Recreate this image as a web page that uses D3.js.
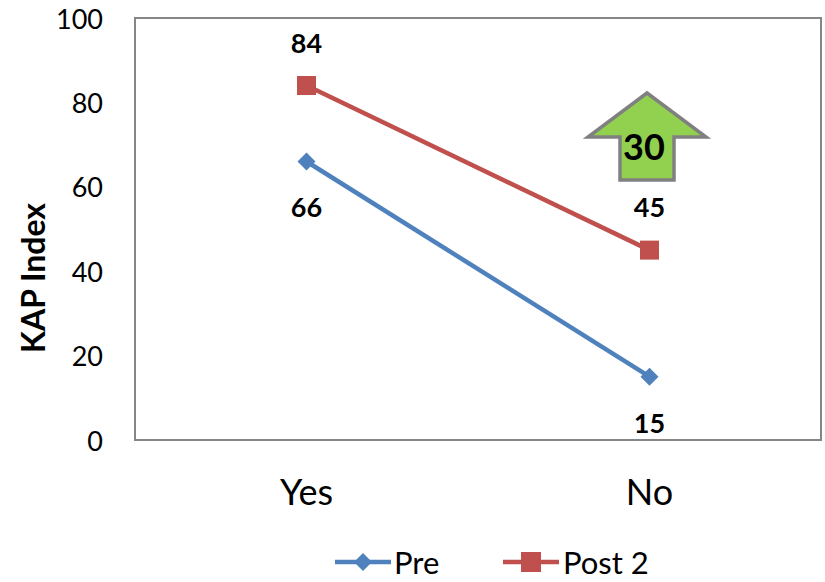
<!DOCTYPE html>
<html>
<head>
<meta charset="utf-8">
<script src="https://cdn.jsdelivr.net/npm/d3@7"></script>
<style>
  html, body { margin: 0; padding: 0; background: #fff; }
  svg { display: block; font-family: Lato, "Open Sans", sans-serif; }
</style>
</head>
<body>
<svg id="chart" width="825" height="582"></svg>
<script>
// KAP index by group, before and after
const categories = ["Yes", "No"];
const preValues = [66, 15];
const post2Values = [84, 45];
const seriesNames = ["Pre", "Post 2"];
const yTicks = [0, 20, 40, 60, 80, 100];
const changeLabel = 30;

const W = 825, H = 582;
const plot = { left: 135, right: 821, top: 18, bottom: 440 };

const svg = d3.select("#chart");

const x = d3.scaleBand().domain(categories).range([plot.left, plot.right]).padding(0);
const y = d3.scaleLinear().domain([0, 100]).range([plot.bottom, plot.top]);
const cx = d => x(d) + x.bandwidth() / 2;

// plot frame
svg.append("rect")
  .attr("x", plot.left).attr("y", plot.top)
  .attr("width", plot.right - plot.left).attr("height", plot.bottom - plot.top)
  .attr("fill", "none").attr("stroke", "#868686").attr("stroke-width", 2);

// y axis labels
const yAxis = d3.axisLeft(y).tickValues(yTicks).tickSize(0).tickPadding(32);
const yg = svg.append("g").attr("transform", `translate(${plot.left},1.5)`).call(yAxis);
yg.select(".domain").remove();
yg.selectAll("text").attr("font-size", 27).attr("fill", "#000")
  .attr("font-family", "Lato, sans-serif");

// x axis labels
const xAxis = d3.axisBottom(x).tickSize(0).tickPadding(39);
const xg = svg.append("g").attr("transform", `translate(0,${plot.bottom})`).call(xAxis);
xg.select(".domain").remove();
xg.selectAll("text").attr("font-size", 36).attr("fill", "#000")
  .attr("font-family", "Lato, sans-serif");

// axis title
svg.append("text")
  .attr("transform", `translate(45,278) rotate(-90)`)
  .attr("text-anchor", "middle")
  .attr("font-size", 32).attr("font-weight", "bold")
  .text("KAP Index");

const colors = { pre: "#4F81BD", post: "#C0504D" };
const line = d3.line().x(d => cx(d.cat)).y(d => y(d.v));

const preData = categories.map((c, i) => ({ cat: c, v: preValues[i] }));
const postData = categories.map((c, i) => ({ cat: c, v: post2Values[i] }));

function diamond(g, px, py, r, color) {
  g.append("path")
    .attr("d", `M${px},${py - r}L${px + r},${py}L${px},${py + r}L${px - r},${py}Z`)
    .attr("fill", color);
}
function square(g, px, py, s, color) {
  g.append("rect").attr("x", px - s / 2).attr("y", py - s / 2)
    .attr("width", s).attr("height", s).attr("fill", color);
}

// Pre series
svg.append("path").datum(preData).attr("d", line)
  .attr("fill", "none").attr("stroke", colors.pre).attr("stroke-width", 4.5);
const gPre = svg.append("g");
preData.forEach(d => diamond(gPre, cx(d.cat), y(d.v), 9, colors.pre));

// Post 2 series
svg.append("path").datum(postData).attr("d", line)
  .attr("fill", "none").attr("stroke", colors.post).attr("stroke-width", 4.5);
const gPost = svg.append("g");
postData.forEach(d => square(gPost, cx(d.cat), y(d.v), 19, colors.post));

// data labels
svg.selectAll(".lblPre").data(preData).enter().append("text")
  .attr("x", d => cx(d.cat)).attr("y", d => y(d.v) + 56)
  .attr("text-anchor", "middle").attr("font-size", 27).attr("font-weight", "bold")
  .text(d => d.v);
svg.selectAll(".lblPost").data(postData).enter().append("text")
  .attr("x", d => cx(d.cat)).attr("y", d => y(d.v) - 33)
  .attr("text-anchor", "middle").attr("font-size", 27).attr("font-weight", "bold")
  .text(d => d.v);

// change arrow
const ax = 647, tipY = 93, wingY = 137, baseY = 180, halfW = 59, stemHW = 27;
svg.append("path")
  .attr("d", `M${ax},${tipY}L${ax + halfW},${wingY}L${ax + stemHW},${wingY}L${ax + stemHW},${baseY}` +
             `L${ax - stemHW},${baseY}L${ax - stemHW},${wingY}L${ax - halfW},${wingY}Z`)
  .attr("fill", "#92D050").attr("stroke", "#808080").attr("stroke-width", 3.5)
  .attr("stroke-linejoin", "miter");
svg.append("text")
  .attr("x", 644).attr("y", 160)
  .attr("text-anchor", "middle").attr("font-size", 36).attr("font-weight", "bold")
  .text(changeLabel);

// legend
const lg = svg.append("g");
const legY = 562;
lg.append("line").attr("x1", 335).attr("x2", 391).attr("y1", legY).attr("y2", legY)
  .attr("stroke", colors.pre).attr("stroke-width", 4.5);
diamond(lg, 363, legY, 9, colors.pre);
lg.append("text").attr("x", 394).attr("y", 574).attr("font-size", 31).text(seriesNames[0]);

lg.append("line").attr("x1", 503).attr("x2", 559).attr("y1", legY).attr("y2", legY)
  .attr("stroke", colors.post).attr("stroke-width", 4.5);
square(lg, 531, legY, 20, colors.post);
lg.append("text").attr("x", 563).attr("y", 574).attr("font-size", 31).text(seriesNames[1]);
</script>
</body>
</html>
